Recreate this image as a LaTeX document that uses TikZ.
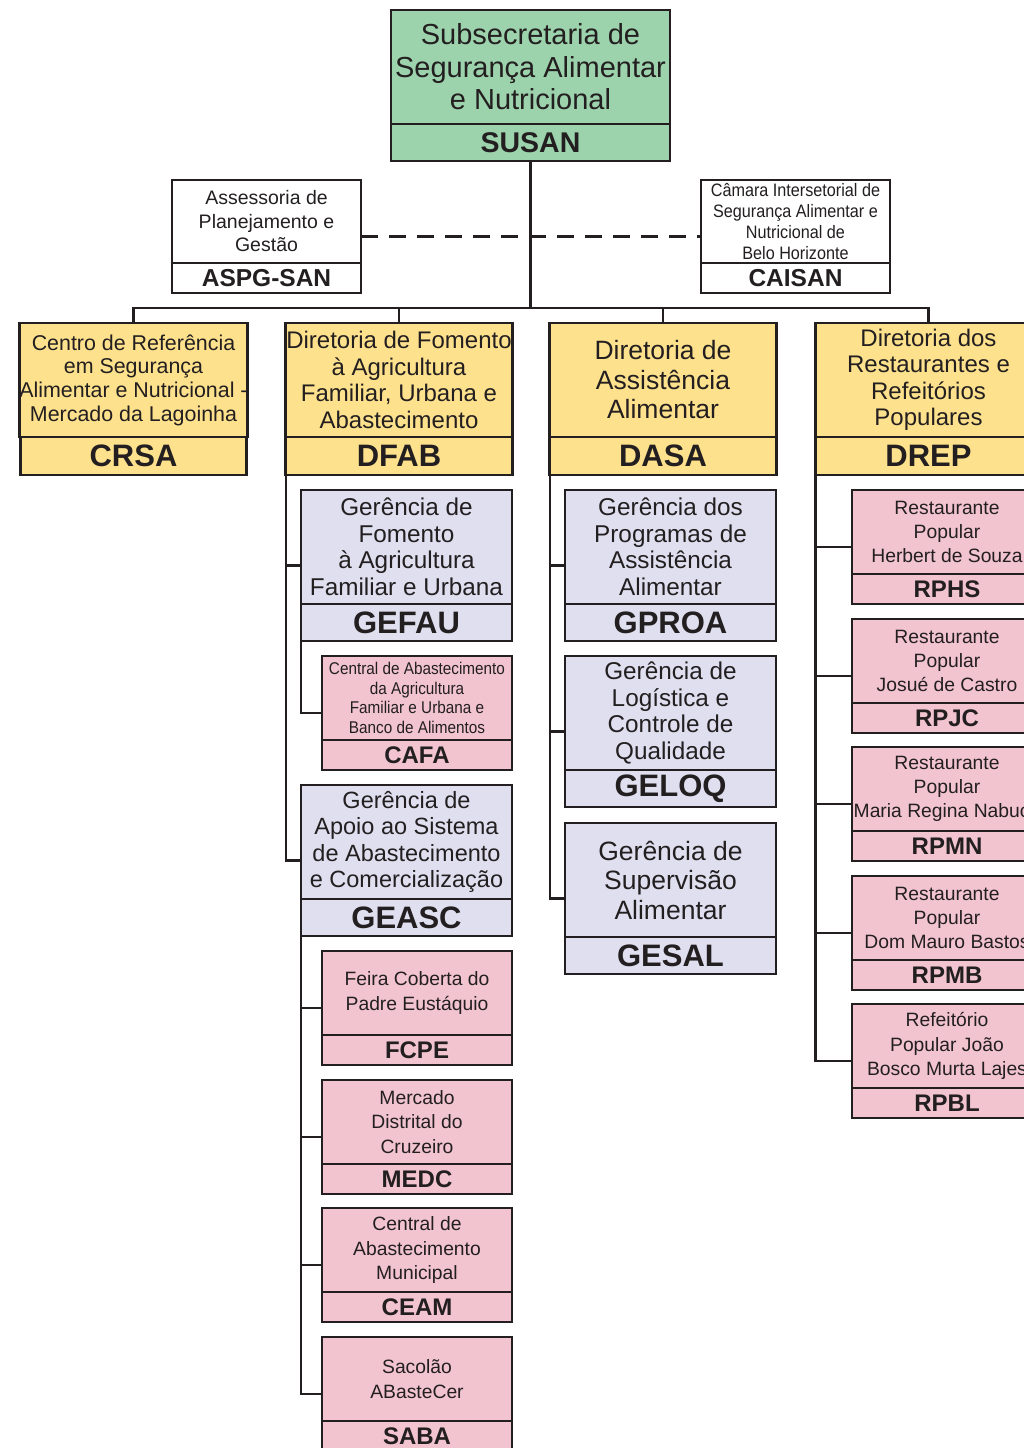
\documentclass[tikz,border=0pt]{standalone}
\usepackage{fontspec}
\setmainfont{Liberation Sans}
\newfontfamily\narrowfont[FakeStretch=0.9]{Liberation Sans}
\usetikzlibrary{positioning,calc}
\definecolor{ink}{HTML}{231F20}
\definecolor{susgreen}{HTML}{9CD3AC}
\definecolor{diryellow}{HTML}{FDE18D}
\definecolor{gerlav}{HTML}{DFDFEF}
\definecolor{unitpink}{HTML}{F2C4D0}

\begin{document}
\begin{tikzpicture}[x=1pt, y=-1pt,
  every node/.style={inner sep=0pt, outer sep=0pt, align=center, text=ink},
  box/.style={draw=ink, line width=2.6pt},
  conn/.style={draw=ink, line width=2.5pt},
  subtop/.style={box, fill=susgreen, minimum width=279pt, minimum height=114pt, font=\fontsize{29}{32.5}\selectfont},
  subacr/.style={box, fill=susgreen, minimum width=279pt, minimum height=37pt, font=\bfseries\fontsize{28.5}{30}\selectfont},
  asstop/.style={box, fill=white, minimum width=189pt, minimum height=83pt, font=\fontsize{19.5}{23.5}\selectfont},
  assacr/.style={box, fill=white, minimum width=189pt, minimum height=30pt, font=\bfseries\fontsize{24.5}{26}\selectfont},
  dirtop/.style={box, fill=diryellow, minimum width=226.5pt, minimum height=114pt, font=\fontsize{24}{26.5}\selectfont},
  diracr/.style={box, fill=diryellow, minimum width=226.5pt, minimum height=38pt, font=\bfseries\fontsize{31}{32}\selectfont},
  gertop/.style={box, fill=gerlav, minimum width=211pt, minimum height=114pt, font=\fontsize{24.3}{26.5}\selectfont},
  geracr/.style={box, fill=gerlav, minimum width=211pt, minimum height=37pt, font=\bfseries\fontsize{31}{32}\selectfont},
  unittop/.style={box, fill=unitpink, minimum width=190pt, minimum height=84pt, font=\fontsize{19.3}{24.2}\selectfont},
  unitacr/.style={box, fill=unitpink, minimum width=190pt, minimum height=30pt, font=\bfseries\fontsize{24}{25}\selectfont}]

  \useasboundingbox (0,0) rectangle (1024,1448);
  \clip (0,0) rectangle (1024,1448);

  % subsecretaria
  \node[subtop] (susan) at (530.5,67) {Subsecretaria de\\Segurança Alimentar\\e Nutricional};
  \node[subacr, below=0pt of susan] (susan-a) {SUSAN};

  % assessoria and camara
  \node[asstop] (aspg) at (266.5,221.5) {Assessoria de\\Planejamento e\\Gestão};
  \node[assacr, below=0pt of aspg] (aspg-a) {ASPG-SAN};
  \node[asstop, font=\narrowfont\fontsize{18}{20.7}\selectfont] (caisan) at (795.5,221.5) {Câmara Intersetorial de\\Segurança Alimentar e\\Nutricional de\\Belo Horizonte};
  \node[assacr, below=0pt of caisan] (caisan-a) {CAISAN};

  % diretorias
  \node[dirtop, font=\fontsize{21.4}{23.7}\selectfont] (crsa) at (133.5,380) {Centro de Referência\\em Segurança\\Alimentar e Nutricional -\\Mercado da Lagoinha};
  \node[diracr, below=0pt of crsa] (crsa-a) {CRSA};
  \node[dirtop] (dfab) at (399,380) {Diretoria de Fomento\\à Agricultura\\Familiar, Urbana e\\Abastecimento};
  \node[diracr, below=0pt of dfab] (dfab-a) {DFAB};
  \node[dirtop, font=\fontsize{26.5}{29.5}\selectfont] (dasa) at (663,380) {Diretoria de\\Assistência\\Alimentar};
  \node[diracr, below=0pt of dasa] (dasa-a) {DASA};
  \node[dirtop] (drep) at (928.5,380) {Diretoria dos\\Restaurantes e\\Refeitórios\\Populares};
  \node[diracr, below=0pt of drep] (drep-a) {DREP};

  % DFAB
  \node[gertop] (gefau) at (406.5,547) {Gerência de\\Fomento\\à Agricultura\\Familiar e Urbana};
  \node[geracr, below=0pt of gefau] (gefau-a) {GEFAU};
  \node[unittop, font=\narrowfont\fontsize{17}{19.5}\selectfont] (cafa) at (417,698) {Central de Abastecimento\\da Agricultura\\Familiar e Urbana e\\Banco de Alimentos};
  \node[unitacr, below=0pt of cafa] (cafa-a) {CAFA};
  \node[gertop, font=\fontsize{23.5}{26.5}\selectfont] (geasc) at (406.5,842) {Gerência de\\Apoio ao Sistema\\de Abastecimento\\e Comercialização};
  \node[geracr, below=0pt of geasc] (geasc-a) {GEASC};
  \node[unittop] (fcpe) at (417,993) {Feira Coberta do\\Padre Eustáquio};
  \node[unitacr, below=0pt of fcpe] (fcpe-a) {FCPE};
  \node[unittop] (medc) at (417,1122) {Mercado\\Distrital do\\Cruzeiro};
  \node[unitacr, below=0pt of medc] (medc-a) {MEDC};
  \node[unittop] (ceam) at (417,1250) {Central de\\Abastecimento\\Municipal};
  \node[unitacr, below=0pt of ceam] (ceam-a) {CEAM};
  \node[unittop] (saba) at (417,1379) {Sacolão\\ABasteCer};
  \node[unitacr, below=0pt of saba] (saba-a) {SABA};

  % DASA
  \node[gertop] (gproa) at (670.5,547) {Gerência dos\\Programas de\\Assistência\\Alimentar};
  \node[geracr, below=0pt of gproa] (gproa-a) {GPROA};
  \node[gertop] (geloq) at (670.5,713) {Gerência de\\Logística e\\Controle de\\Qualidade};
  \node[geracr, below=0pt of geloq] (geloq-a) {GELOQ};
  \node[gertop, font=\fontsize{26.5}{29.5}\selectfont] (gesal) at (670.5,880) {Gerência de\\Supervisão\\Alimentar};
  \node[geracr, below=0pt of gesal] (gesal-a) {GESAL};

  % DREP
  \node[unittop] (rphs) at (947,532) {Restaurante\\Popular\\Herbert de Souza};
  \node[unitacr, below=0pt of rphs] (rphs-a) {RPHS};
  \node[unittop] (rpjc) at (947,661) {Restaurante\\Popular\\Josué de Castro};
  \node[unitacr, below=0pt of rpjc] (rpjc-a) {RPJC};
  \node[unittop] (rpmn) at (947,789) {Restaurante\\Popular\\Maria Regina Nabuco};
  \node[unitacr, below=0pt of rpmn] (rpmn-a) {RPMN};
  \node[unittop] (rpmb) at (947,918) {Restaurante\\Popular\\Dom Mauro Bastos};
  \node[unitacr, below=0pt of rpmb] (rpmb-a) {RPMB};
  \node[unittop] (rpbl) at (947,1046) {Refeitório\\Popular João\\Bosco Murta Lajes};
  \node[unitacr, below=0pt of rpbl] (rpbl-a) {RPBL};

  % branch points, middle of the left side of each box
  \foreach \u in {gefau,cafa,geasc,fcpe,medc,ceam,saba,gproa,geloq,gesal,rphs,rpjc,rpmn,rpmb,rpbl}
    \coordinate (\u-w) at ($(\u.north west)!.5!(\u-a.south west)$);
  \coordinate (bus) at (530.5,308);

  % top lines
  \draw[conn, dash pattern=on 17pt off 11pt] ($(aspg.north east)!.5!(aspg-a.south east)$) -- ($(caisan.north west)!.5!(caisan-a.south west)$);
  \draw[conn] (susan-a.south) -- (bus);
  \draw[conn] (crsa.north) |- (bus) -| (drep.north);
  \draw[conn] (dfab.north) -- (dfab.north |- bus);
  \draw[conn] (dasa.north) -- (dasa.north |- bus);

  % DFAB lines
  \draw[conn] (dfab-a.south west) |- (geasc-w);
  \draw[conn] (gefau-w) -- (gefau-w -| dfab-a.west);
  \draw[conn] (gefau-a.south west) |- (cafa-w);
  \draw[conn] (geasc-a.south west) |- (saba-w);
  \draw[conn] (fcpe-w) -- (fcpe-w -| geasc-a.west);
  \draw[conn] (medc-w) -- (medc-w -| geasc-a.west);
  \draw[conn] (ceam-w) -- (ceam-w -| geasc-a.west);

  % DASA lines
  \draw[conn] (dasa-a.south west) |- (gesal-w);
  \draw[conn] (gproa-w) -- (gproa-w -| dasa-a.west);
  \draw[conn] (geloq-w) -- (geloq-w -| dasa-a.west);

  % DREP lines
  \draw[conn] (drep-a.south west) |- (rpbl-w);
  \draw[conn] (rphs-w) -- (rphs-w -| drep-a.west);
  \draw[conn] (rpjc-w) -- (rpjc-w -| drep-a.west);
  \draw[conn] (rpmn-w) -- (rpmn-w -| drep-a.west);
  \draw[conn] (rpmb-w) -- (rpmb-w -| drep-a.west);
\end{tikzpicture}
\end{document}
